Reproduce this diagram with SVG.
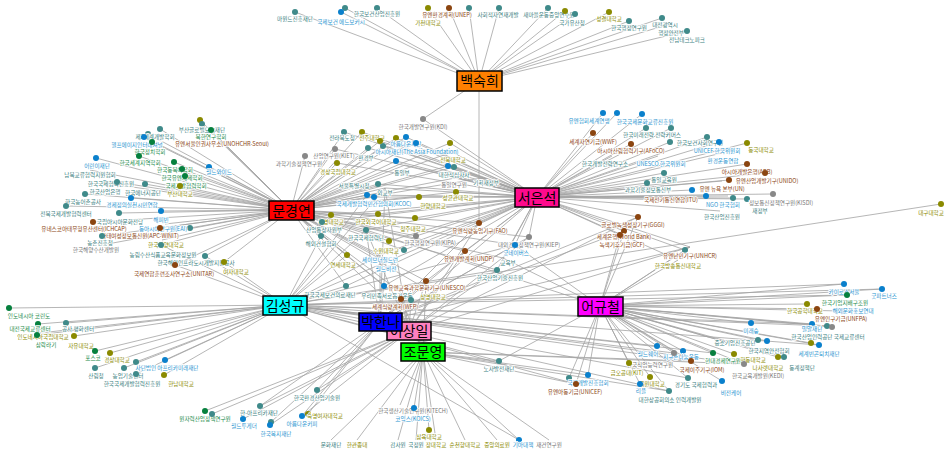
<svg xmlns="http://www.w3.org/2000/svg" width="950" height="454" viewBox="0 0 950 454">
<style>
.e{fill:none;stroke:#a3a3a3;stroke-width:0.8}
text{font-family:"Noto Sans CJK KR","Noto Sans",sans-serif}
.n text{font-size:5.6px;text-anchor:middle;stroke:#fff;stroke-width:1.6px;paint-order:stroke;stroke-linejoin:round}
.t circle{fill:#3f8a8a}.t text{fill:#3a8080}
.o circle{fill:#8a8a00}.o text{fill:#8a8a00}
.r circle{fill:#8b4510}.r text{fill:#8b4513}
.b circle{fill:#0a80cc}.b text{fill:#2a95d0}
.g circle{fill:#06803e}.g text{fill:#1a8a4a}
.y circle{fill:#888}.y text{fill:#777}
.h rect{stroke:#000;stroke-width:1.5}
.h text{font-size:14px;text-anchor:middle;fill:#000}
</style>
<rect width="950" height="454" fill="#fff"/>
<g id="edges" class="e">
<path d="M479 81L295 12M479 81L345 8M479 81L341 12M479 81L377 8M479 81L428 8M479 81L449 8M479 81L469 8M479 81L499 8M479 81L548 8M479 81L565 11M479 81L575 14M479 81L609 12M479 81L629 21M479 81L662 18M479 81L687 31M479 81L670 24M479 81L423 119M479 81L479 223"/>
<path d="M291 210L200 120M291 210L202 124M291 210L211 130M291 210L216 136M291 210L160 129M291 210L148 134M291 210L144 137M291 210L152 142M291 210L96 158M291 210L139 156M291 210L174 162M291 210L182 169M291 210L209 167M291 210L90 170M291 210L105 183M291 210L117 182M291 210L145 184M291 210L185 176M291 210L180 186M291 210L85 194M291 210L131 198M291 210L66 206M291 210L119 213M291 210L161 211M291 210L93 222M291 210L160 228M291 210L165 224M291 210L190 228M291 210L102 236M291 210L161 245M291 210L162 240M291 210L102 245M291 210L205 256M291 210L175 265M291 210L224 262M291 210L344 132M291 210L362 132M291 210L335 149M291 210L305 156M291 210L368 148M291 210L383 146M291 210L380 141M291 210L396 138M291 210L406 137M291 210L416 143M291 210L450 143M291 210L452 152M291 210L396 161M291 210L337 163M291 210L405 165M291 210L448 166M291 210L454 167M291 210L378 184M291 210L455 178M291 210L482 178M291 210L367 195M291 210L374 197M291 210L385 188M291 210L419 197M291 210L456 192M291 210L331 215M291 210L322 222M291 210L378 214M291 210L415 218M291 210L321 236M291 210L366 230M291 210L416 236M291 210L389 241M291 210L404 250M291 210L347 255M291 210L380 255M291 210L386 262M291 210L426 281M291 210L384 286M291 210L346 286M291 210L375 289M291 210L401 299M291 210L411 300M291 210L428 290M291 210L465 251M291 210L529 237M291 210L515 245M291 210L497 270M291 210L503 258M291 210L479 223"/>
<path d="M537 197L344 132M537 197L362 132M537 197L335 149M537 197L368 148M537 197L383 146M537 197L380 141M537 197L396 138M537 197L406 137M537 197L416 143M537 197L450 143M537 197L452 152M537 197L396 161M537 197L337 163M537 197L405 165M537 197L448 166M537 197L454 167M537 197L378 184M537 197L455 178M537 197L482 178M537 197L367 195M537 197L374 197M537 197L385 188M537 197L419 197M537 197L456 192M537 197L331 215M537 197L322 222M537 197L378 214M537 197L415 218M537 197L366 230M537 197L416 236M537 197L389 241M537 197L404 250M537 197L380 255M537 197L386 262M537 197L426 281M537 197L384 286M537 197L346 286M537 197L428 290M537 197L465 251M537 197L529 237M537 197L515 245M537 197L497 270M537 197L503 258M537 197L479 223M537 197L423 119M537 197L603 113M537 197L617 113M537 197L642 114M537 197L646 128M537 197L671 128M537 197L593 133M537 197L631 144M537 197L670 142M537 197L707 137M537 197L719 142M537 197L747 143M537 197L612 156M537 197L658 156M537 197L722 153M537 197L664 173M537 197L647 183M537 197L692 190M537 197L706 196M537 197L678 200M537 197L747 164M537 197L765 173M537 197L729 180M537 197L722 181M537 197L773 194M537 197L733 198M537 197L747 199M537 197L728 196M537 197L720 211M537 197L638 217M537 197L624 231M537 197L620 235M537 197L685 250M537 197L690 247M537 197L678 260"/>
<path d="M285 305L9 308M285 305L38 324M285 305L66 323M285 305L37 335M285 305L74 336M285 305L40 333M285 305L95 351M285 305L110 353M285 305L95 368M285 305L124 368M285 305L136 362M285 305L136 374M285 305L165 360M285 305L164 375M285 305L941 204M285 305L367 195M285 305L385 188M285 305L321 236M285 305L366 230M285 305L347 255M285 305L380 255M285 305L386 262M285 305L346 286M285 305L205 256M285 305L175 265M285 305L224 262M285 305L161 245M285 305L844 284M285 305L882 289M285 305L847 295M285 305L812 324M285 305L827 326M285 305L819 345M285 305L713 353M285 305L744 364M285 305L657 346M285 305L674 353M285 305L691 361M285 305L688 378M285 305L669 391M285 305L499 361M285 305L576 384M285 305L519 440M285 305L515 245M285 305L497 270"/>
<path d="M380 322L385 188M380 322L366 230M380 322L380 255M380 322L386 262M380 322L426 281M380 322L401 299M380 322L465 251M380 322L529 237M380 322L515 245M380 322L479 223M380 322L638 217M380 322L624 231M380 322L690 247M380 322L260 406M380 322L317 390M380 322L308 414M380 322L302 416M380 322L271 422"/>
<path d="M409 331L385 188M409 331L366 230M409 331L426 281M409 331L401 299M409 331L411 300M409 331L465 251M409 331L529 237M409 331L497 270M409 331L690 247M409 331L479 223M409 331L638 217M409 331L205 411M409 331L212 414M409 331L317 390M409 331L260 406M409 331L302 416M409 331L243 419M409 331L270 425"/>
<path d="M423 352L414 408M423 352L400 405M423 352L429 430M423 352L331 440M423 352L357 440M423 352L398 440M423 352L416 440M423 352L436 440M423 352L465 440M423 352L497 440M423 352L519 440M423 352L549 440M423 352L499 361M423 352L426 281M423 352L401 299M423 352L744 364M423 352L691 361M423 352L669 391M423 352L576 384M423 352L588 375"/>
<path d="M600 306L844 284M600 306L882 289M600 306L847 295M600 306L807 304M600 306L817 309M600 306L842 311M600 306L812 324M600 306L827 326M600 306L832 327M600 306L751 323M600 306L811 343M600 306L819 345M600 306L758 340M600 306L767 341M600 306L740 346M600 306L713 353M600 306L734 354M600 306L778 357M600 306L784 357M600 306L744 364M600 306L722 381M600 306L657 346M600 306L674 353M600 306L683 351M600 306L691 361M600 306L688 378M600 306L629 363M600 306L650 377M600 306L640 384M600 306L669 391M600 306L499 361M600 306L569 378M600 306L588 375M600 306L576 384M600 306L638 217M600 306L624 231M600 306L620 235M600 306L685 250M600 306L690 247M600 306L678 260M600 306L515 245M600 306L503 258M600 306L366 230"/>
</g>
<g id="nodes">
<g id="n1" class="n t"><circle cx="295" cy="12" r="3"/><text x="295" y="21">마원드진흥재단</text></g>
<g id="n2" class="n t"><circle cx="345" cy="8" r="3"/></g>
<g id="n4" class="n t"><circle cx="377" cy="8" r="3"/><text x="377" y="16">한국보건산업진흥원</text></g>
<g id="n3" class="n b"><circle cx="341" cy="12" r="3"/><text x="341" y="24">국제보건 에드보커시</text></g>
<g id="n5" class="n o"><circle cx="428" cy="8" r="3"/><text x="428" y="25">가천대학교</text></g>
<g id="n6" class="n r"><circle cx="449" cy="8" r="3"/><text x="447" y="17">유엔환경계획(UNEP)</text></g>
<g id="n7" class="n t"><circle cx="469" cy="8" r="3"/></g>
<g id="n8" class="n t"><circle cx="499" cy="8" r="3"/><text x="498" y="17">사회적자연재개발</text></g>
<g id="n9" class="n t"><circle cx="548" cy="8" r="3"/><text x="549" y="17">새마을운동중앙연수원</text></g>
<g id="n10" class="n o"><circle cx="565" cy="11" r="3"/></g>
<g id="n11" class="n t"><circle cx="575" cy="14" r="3"/><text x="572" y="25">국가유산청</text></g>
<g id="n12" class="n o"><circle cx="609" cy="12" r="3"/><text x="609" y="21">성결대학교</text></g>
<g id="n13" class="n t"><circle cx="629" cy="21" r="3"/><text x="629" y="30">한국행정연구원</text></g>
<g id="n14" class="n t"><circle cx="662" cy="18" r="3"/><text x="665" y="27">대전광역시</text></g>
<g id="n16" class="n t"><text x="671" y="35">행정안전부</text></g>
<g id="n15" class="n t"><circle cx="687" cy="31" r="3"/><text x="687" y="42">전남테크노파크</text></g>
<g id="n17" class="n y"><circle cx="423" cy="119" r="3"/><text x="423" y="129">한국개발연구원(KDI)</text></g>

<g id="n20" class="n o"><circle cx="200" cy="120" r="3"/></g>
<g id="n21" class="n t"><circle cx="202" cy="124" r="3"/><text x="202" y="132">부산글로벌도시재단</text></g>
<g id="n22" class="n g"><circle cx="211" cy="130" r="3"/><text x="211" y="139">북한연구학회</text></g>
<g id="n24" class="n t"><circle cx="160" cy="129" r="3"/></g>
<g id="n25" class="n t"><circle cx="148" cy="134" r="3"/><text x="155" y="139">제3세계개발학회</text></g>
<g id="n23" class="n r"><text x="222" y="146">유엔서울인권사무소(UNOHCHR-Seoul)</text></g>
<g id="n26" class="n b"><circle cx="144" cy="137" r="3"/><text x="137" y="147">헬프에이지인터내셔널</text></g>
<g id="n27" class="n g"><circle cx="152" cy="142" r="3"/><text x="150" y="154">한국정치학회</text></g>
<g id="n28" class="n b"><circle cx="96" cy="158" r="3"/><text x="97" y="168">어린이재단</text></g>
<g id="n29" class="n g"><circle cx="139" cy="156" r="3"/><text x="140" y="165">한국세계지역학회</text></g>
<g id="n30" class="n g"><circle cx="174" cy="162" r="3"/><text x="175" y="172">한국동북아학회</text></g>
<g id="n31" class="n g"><circle cx="182" cy="169" r="3"/><text x="182" y="180">한국유엔체제학회</text></g>
<g id="n32" class="n b"><circle cx="209" cy="167" r="3"/><text x="219" y="174">월드와이드</text></g>
<g id="n33" class="n t"><text x="90" y="177">남북교류협력지원협회</text></g>
<g id="n35" class="n t"><circle cx="105" cy="183" r="3"/><text x="111" y="186">한국국제협력진흥원</text></g>
<g id="n38" class="n g"><circle cx="185" cy="176" r="3"/><text x="186" y="188">국제개발협력학회</text></g>
<g id="n36" class="n t"><circle cx="117" cy="182" r="3"/><text x="105" y="194">한국산업은행</text></g>
<g id="n37" class="n t"><circle cx="145" cy="184" r="3"/><text x="143" y="195">한국에너지공단</text></g>
<g id="n39" class="n o"><circle cx="180" cy="186" r="3"/><text x="180" y="196">부산대학교</text></g>
<g id="n40" class="n t"><circle cx="85" cy="194" r="3"/><text x="83" y="204">한국농어촌공사</text></g>
<g id="n42" class="n b"><circle cx="131" cy="198" r="3"/><text x="132" y="207">경제정의실천시민연합</text></g>
<g id="n43" class="n t"><circle cx="66" cy="206" r="3"/><text x="66" y="216">전북국제개발협력센터</text></g>
<g id="n44" class="n t"><circle cx="119" cy="213" r="3"/><text x="120" y="224">국립아시아문화전당</text></g>
<g id="n45" class="n b"><circle cx="161" cy="211" r="3"/><text x="161" y="222">해피빈</text></g>
<g id="n50" class="n t"><circle cx="190" cy="228" r="3"/></g>
<g id="n46" class="n r"><circle cx="93" cy="222" r="3"/><text x="84" y="231">유네스코아태무형유산센터(ICHCAP)</text></g>
<g id="n49" class="n b"><text x="163" y="231">동아시아연구원(EAI)</text></g>
<g id="n48" class="n r"><circle cx="160" cy="228" r="3"/><text x="140" y="238">아태여성정보통신원(APC-WINIT)</text></g>
<g id="n52" class="n t"><circle cx="102" cy="236" r="3"/><text x="100" y="245">농촌진흥청</text></g>
<g id="n54" class="n o"><text x="166" y="247">한국해양대학교</text></g>
<g id="n55" class="n y"><text x="96" y="252">한국해양수산개발원</text></g>
<g id="n53" class="n t"><circle cx="161" cy="245" r="3"/><text x="163" y="257">농림수산식품교육문화정보원</text></g>
<g id="n56" class="n t"><circle cx="205" cy="256" r="3"/><text x="196" y="265">한국해외인프라도시개발지원공사</text></g>
<g id="n58" class="n o"><circle cx="224" cy="262" r="3"/><text x="236" y="274">여자대학교</text></g>
<g id="n57" class="n r"><circle cx="175" cy="265" r="3"/><text x="174" y="276">국제연합훈련조사연구소(UNITAR)</text></g>

<g id="n60" class="n t"><circle cx="344" cy="132" r="3"/><text x="342" y="140">전라북도청</text></g>
<g id="n61" class="n o"><circle cx="362" cy="132" r="3"/><text x="372" y="140">전주대학교</text></g>
<g id="n63" class="n y"><circle cx="305" cy="156" r="3"/><text x="299" y="166">과학기술정책연구원</text></g>
<g id="n62" class="n y"><circle cx="335" cy="149" r="3"/><text x="334" y="158">산업연구원(KIET)</text></g>
<g id="n64" class="n t"><circle cx="368" cy="148" r="3"/><text x="366" y="160">환경부</text></g>
<g id="n65" class="n t"><circle cx="383" cy="146" r="3"/></g>
<g id="n66" class="n o"><circle cx="380" cy="141" r="3"/></g>
<g id="n67" class="n o"><circle cx="396" cy="138" r="3"/></g>
<g id="n70" class="n o"><circle cx="450" cy="143" r="3"/></g>
<g id="n68" class="n b"><circle cx="406" cy="137" r="3"/><text x="406" y="146">아름다운재단</text></g>
<g id="n69" class="n b"><circle cx="416" cy="143" r="3"/><text x="417" y="154">아시아재단(The Asia Foundation)</text></g>
<g id="n71" class="n o"><text x="453" y="162">전북대학교</text></g>
<g id="n72" class="n b"><circle cx="396" cy="161" r="3"/></g>
<g id="n73" class="n o"><circle cx="337" cy="163" r="3"/><text x="338" y="174">경상국립대학교</text></g>
<g id="n74" class="n t"><text x="402" y="175">통일부</text></g>
<g id="n75" class="n b"><circle cx="448" cy="166" r="3"/></g>
<g id="n76" class="n t"><circle cx="454" cy="167" r="3"/><text x="454" y="177">대한적십자사</text></g>
<g id="n77" class="n t"><circle cx="378" cy="184" r="3"/><text x="354" y="188">서울특별시청</text></g>
<g id="n78" class="n y"><text x="454" y="187">통일연구원</text></g>
<g id="n79" class="n t"><text x="486" y="185">기획재정부</text></g>
<g id="n82" class="n t"><text x="385" y="195">외교부</text></g>
<g id="n80" class="n b"><circle cx="367" cy="195" r="3"/><text x="374" y="206">국제개발협력민간협의회(KCOC)</text></g>
<g id="n81" class="n b"><circle cx="374" cy="197" r="3"/></g>
<g id="n83" class="n o"><circle cx="419" cy="197" r="3"/><text x="433" y="208">한양대학교</text></g>
<g id="n84" class="n o"><circle cx="456" cy="192" r="3"/><text x="458" y="200">성균관대학교</text></g>
<g id="n85" class="n o"><circle cx="331" cy="215" r="3"/><text x="331" y="224">계명대학교</text></g>
<g id="n87" class="n o"><circle cx="378" cy="214" r="3"/><text x="376" y="224">한국외국어대학교</text></g>
<g id="n88" class="n o"><circle cx="415" cy="218" r="3"/><text x="413" y="231">청주대학교</text></g>
<g id="n86" class="n t"><circle cx="322" cy="222" r="3"/><text x="324" y="232">산업통상자원부</text></g>
<g id="n90" class="n t"><circle cx="366" cy="230" r="3"/><text x="366" y="240">한국국제협력단</text></g>
<g id="n89" class="n t"><circle cx="321" cy="236" r="3"/><text x="321" y="246">해외건설협회</text></g>
<g id="n91" class="n y"><circle cx="416" cy="236" r="3"/><text x="430" y="245">한국행정연구원(KIPA)</text></g>
<g id="n92" class="n o"><circle cx="389" cy="241" r="3"/><text x="386" y="253">수원대학교</text></g>
<g id="n93" class="n t"><circle cx="404" cy="250" r="3"/></g>
<g id="n95" class="n b"><text x="380" y="262">세이브더칠드런</text></g>
<g id="n94" class="n o"><circle cx="347" cy="255" r="3"/><text x="343" y="267">연세대학교</text></g>
<g id="n96" class="n b"><text x="386" y="271">월드비전</text></g>
<g id="n104" class="n r"><circle cx="465" cy="251" r="3"/><text x="469" y="261">유엔개발계획(UNDP)</text></g>
<g id="n97" class="n r"><circle cx="426" cy="281" r="3"/><text x="427" y="290">유엔교육과학문화기구(UNESCO)</text></g>
<g id="n98" class="n b"><circle cx="384" cy="286" r="3"/></g>
<g id="n100" class="n t"><text x="387" y="298">우리민족서로돕기운동</text></g>
<g id="n99" class="n t"><circle cx="346" cy="286" r="3"/><text x="330" y="297">한국국제보건의료재단</text></g>
<g id="n103" class="n o"><text x="433" y="299">상명대학교</text></g>
<g id="n101" class="n r"><circle cx="401" cy="299" r="3"/><text x="395" y="309">세계식량계획(WFP)</text></g>
<g id="n102" class="n t"><circle cx="411" cy="300" r="3"/></g>
<g id="n18" class="n r"><circle cx="479" cy="223" r="3"/><text x="480" y="233">유엔식량농업기구(FAO)</text></g>
<g id="n105" class="n y"><circle cx="529" cy="237" r="3"/><text x="529" y="247">대외경제정책연구원(KIEP)</text></g>
<g id="n106" class="n b"><circle cx="515" cy="245" r="3"/><text x="516" y="255">굿네이버스</text></g>
<g id="n108" class="n t"><text x="508" y="265">교육부</text></g>
<g id="n107" class="n t"><circle cx="497" cy="270" r="3"/><text x="500" y="280">한국산업기술진흥원</text></g>

<g id="n110" class="n b"><circle cx="603" cy="113" r="3"/><text x="589" y="123">유엔협회세계연맹</text></g>
<g id="n111" class="n b"><circle cx="617" cy="113" r="3"/></g>
<g id="n112" class="n b"><circle cx="642" cy="114" r="3"/><text x="645" y="124">한국국제문화교류진흥원</text></g>
<g id="n114" class="n t"><circle cx="646" cy="128" r="3"/><text x="652" y="137">한국미래전략 전략커머스</text></g>
<g id="n115" class="n t"><circle cx="671" cy="128" r="3"/></g>
<g id="n116" class="n r"><circle cx="593" cy="133" r="3"/><text x="593" y="144">세계자연기금(WWF)</text></g>
<g id="n118" class="n t"><circle cx="670" cy="142" r="3"/><text x="700" y="145">한국보건사회연구원</text></g>
<g id="n117" class="n r"><circle cx="631" cy="144" r="3"/><text x="631" y="153">아시아산림협력기구(AFoCO)</text></g>
<g id="n119" class="n t"><circle cx="707" cy="137" r="3"/></g>
<g id="n120" class="n b"><circle cx="719" cy="142" r="3"/><text x="717" y="153">UNICEF 한국위원회</text></g>
<g id="n121" class="n o"><circle cx="747" cy="143" r="3"/><text x="761" y="152">동국대학교</text></g>
<g id="n122" class="n t"><text x="605" y="166">한국개발전략연구소</text></g>
<g id="n123" class="n b"><text x="661" y="166">UNESCO 한국위원회</text></g>
<g id="n124" class="n b"><text x="723" y="163">환경운동연합</text></g>
<g id="n130" class="n r"><circle cx="747" cy="164" r="3"/><text x="747" y="174">아시아개발은행(ADB)</text></g>
<g id="n131" class="n r"><circle cx="765" cy="173" r="3"/></g>
<g id="n125" class="n t"><circle cx="664" cy="173" r="3"/><text x="664" y="182">통일교육원</text></g>
<g id="n132" class="n r"><circle cx="729" cy="180" r="3"/><text x="767" y="183">유엔산업개발기구(UNIDO)</text></g>
<g id="n133" class="n r"><text x="722" y="191">유엔 뉴욕 본부(UN)</text></g>
<g id="n126" class="n t"><circle cx="647" cy="183" r="3"/><text x="648" y="192">과학기술정보통신부</text></g>
<g id="n127" class="n b"><circle cx="692" cy="190" r="3"/></g>
<g id="n128" class="n b"><circle cx="706" cy="196" r="3"/></g>
<g id="n129" class="n r"><circle cx="678" cy="200" r="3"/><text x="671" y="202">국제전기통신연합(ITU)</text></g>
<g id="n135" class="n t"><circle cx="733" cy="198" r="3"/></g>
<g id="n136" class="n t"><circle cx="747" cy="199" r="3"/><text x="760" y="213">재정부</text></g>
<g id="n137" class="n b"><text x="723" y="207">NGO 한국협회</text></g>
<g id="n134" class="n y"><circle cx="773" cy="194" r="3"/><text x="781" y="205">정보통신정책연구원(KISDI)</text></g>
<g id="n138" class="n t"><text x="722" y="219">한국산업진흥원</text></g>
<g id="n145" class="n o"><circle cx="941" cy="204" r="3"/><text x="931" y="215">대구대학교</text></g>
<g id="n139" class="n r"><circle cx="638" cy="217" r="3"/><text x="633" y="227">글로벌녹색성장기구(GGGI)</text></g>
<g id="n140" class="n r"><circle cx="624" cy="231" r="3"/><text x="624" y="239">세계은행(World Bank)</text></g>
<g id="n141" class="n r"><circle cx="620" cy="235" r="3"/><text x="622" y="247">녹색기후기금(GCF)</text></g>
<g id="n142" class="n t"><circle cx="685" cy="250" r="3"/></g>
<g id="n143" class="n r"><text x="690" y="258">유엔난민기구(UNHCR)</text></g>
<g id="n144" class="n o"><text x="678" y="268">한국방송통신대학교</text></g>

<g id="n150" class="n b"><circle cx="844" cy="284" r="3"/><text x="844" y="294">카이로스서울</text></g>
<g id="n151" class="n b"><circle cx="882" cy="289" r="3"/><text x="884" y="298">굿파트너즈</text></g>
<g id="n152" class="n g"><circle cx="847" cy="295" r="3"/><text x="845" y="305">한국기업지배구조원</text></g>
<g id="n153" class="n o"><circle cx="807" cy="304" r="3"/><text x="805" y="313">한국공학대학교</text></g>
<g id="n155" class="n b"><circle cx="842" cy="311" r="3"/><text x="853" y="313">해외문화홍보연대</text></g>
<g id="n154" class="n r"><circle cx="817" cy="309" r="3"/><text x="841" y="321">유엔인구기금(UNFPA)</text></g>
<g id="n158" class="n b"><circle cx="812" cy="324" r="3"/><text x="812" y="331">밀알재단</text></g>
<g id="n159" class="n t"><circle cx="827" cy="326" r="3"/><text x="828" y="339">한국산업인력공단 국제교류센터</text></g>
<g id="n160" class="n y"><circle cx="832" cy="327" r="3"/></g>
<g id="n161" class="n b"><circle cx="751" cy="323" r="3"/><text x="751" y="333">미래숲</text></g>
<g id="n166" class="n t"><text x="735" y="345">중소기업진흥공단</text></g>
<g id="n164" class="n t"><circle cx="758" cy="340" r="3"/><text x="769" y="353">한국지역안전협회</text></g>
<g id="n165" class="n b"><circle cx="767" cy="341" r="3"/></g>
<g id="n162" class="n o"><circle cx="811" cy="343" r="3"/></g>
<g id="n163" class="n b"><circle cx="819" cy="345" r="3"/><text x="819" y="356">세계빈곤퇴치재단</text></g>
<g id="n173" class="n b"><circle cx="657" cy="346" r="3"/><text x="648" y="356">월드쉐어</text></g>
<g id="n175" class="n b"><circle cx="683" cy="351" r="3"/><text x="681" y="359">지구촌나눔운동</text></g>
<g id="n174" class="n y"><circle cx="674" cy="353" r="3"/><text x="650" y="367">한국직업능력연구원</text></g>
<g id="n167" class="n g"><circle cx="713" cy="353" r="3"/><text x="723" y="363">현대경제연구원</text></g>
<g id="n168" class="n o"><circle cx="734" cy="354" r="3"/><text x="753" y="362">한동대학교</text></g>
<g id="n169" class="n o"><circle cx="778" cy="357" r="3"/><text x="768" y="370">나사렛대학교</text></g>
<g id="n170" class="n t"><circle cx="784" cy="357" r="3"/><text x="802" y="370">동계정책단</text></g>
<g id="n176" class="n r"><circle cx="691" cy="361" r="3"/><text x="702" y="372">국제이주기구(IOM)</text></g>
<g id="n179" class="n o"><circle cx="629" cy="363" r="3"/><text x="627" y="375">금오공대(KIT)</text></g>
<g id="n171" class="n y"><circle cx="744" cy="364" r="3"/><text x="758" y="378">한국교육개발원(KEDI)</text></g>
<g id="n180" class="n o"><circle cx="650" cy="377" r="3"/><text x="652" y="386">목원대학교</text></g>
<g id="n177" class="n t"><circle cx="688" cy="378" r="3"/><text x="696" y="387">경기도 국제협력과</text></g>
<g id="n181" class="n b"><circle cx="640" cy="384" r="3"/><text x="641" y="393">리플</text></g>
<g id="n182" class="n t"><circle cx="669" cy="391" r="3"/><text x="670" y="402">대한상공회의소 인력개발원</text></g>
<g id="n172" class="n b"><circle cx="722" cy="381" r="3"/><text x="731" y="395">비전케어</text></g>
<g id="n183" class="n t"><circle cx="499" cy="361" r="3"/><text x="499" y="371">노사발전재단</text></g>
<g id="n184" class="n t"><circle cx="569" cy="378" r="3"/></g>
<g id="n185" class="n b"><circle cx="588" cy="375" r="3"/><text x="588" y="385">국제개발진흥협회</text></g>
<g id="n186" class="n r"><circle cx="576" cy="384" r="3"/><text x="575" y="394">유엔아동기금(UNICEF)</text></g>

<g id="n190" class="n g"><circle cx="9" cy="308" r="3"/><text x="29" y="318">인도네시아 코린도</text></g>
<g id="n191" class="n g"><circle cx="38" cy="324" r="3"/><text x="30" y="331">대전국제교류센터</text></g>
<g id="n192" class="n t"><circle cx="66" cy="323" r="3"/><text x="78" y="331">공사 평화센터</text></g>
<g id="n195" class="n o"><text x="43" y="339">인도네시아국립대학교</text></g>
<g id="n193" class="n g"><circle cx="37" cy="335" r="3"/><text x="46" y="347">삼락라기</text></g>
<g id="n194" class="n o"><circle cx="74" cy="336" r="3"/><text x="81" y="348">자유대학교</text></g>
<g id="n196" class="n g"><circle cx="95" cy="351" r="3"/><text x="93" y="360">포스코</text></g>
<g id="n197" class="n o"><circle cx="110" cy="353" r="3"/><text x="117" y="362">경상대학교</text></g>
<g id="n200" class="n t"><circle cx="136" cy="362" r="3"/></g>
<g id="n202" class="n b"><circle cx="165" cy="360" r="3"/><text x="167" y="370">사단법인 아프리카미래재단</text></g>
<g id="n198" class="n t"><circle cx="95" cy="368" r="3"/><text x="96" y="378">산림청</text></g>
<g id="n199" class="n t"><circle cx="124" cy="368" r="3"/><text x="128" y="378">농업기술센터</text></g>
<g id="n201" class="n t"><circle cx="136" cy="374" r="3"/><text x="132" y="386">한국국제개발협력진흥원</text></g>
<g id="n203" class="n o"><circle cx="164" cy="375" r="3"/><text x="181" y="386">한남대학교</text></g>
<g id="n204" class="n g"><circle cx="205" cy="411" r="3"/><text x="205" y="421">원자력산업정책연구원</text></g>
<g id="n205" class="n t"><circle cx="212" cy="414" r="3"/></g>
<g id="n206" class="n t"><circle cx="317" cy="390" r="3"/><text x="317" y="400">한국환경산업기술원</text></g>
<g id="n207" class="n t"><circle cx="260" cy="406" r="3"/><text x="259" y="415">한-아프리카재단</text></g>
<g id="n208" class="n o"><circle cx="308" cy="414" r="3"/><text x="325" y="418">숙명여자대학교</text></g>
<g id="n209" class="n b"><circle cx="302" cy="416" r="3"/><text x="302" y="426">아름다운커피</text></g>
<g id="n210" class="n b"><circle cx="243" cy="419" r="3"/><text x="244" y="428">월드투게더</text></g>
<g id="n211" class="n t"><circle cx="271" cy="422" r="3"/></g>
<g id="n212" class="n b"><circle cx="270" cy="425" r="3"/><text x="276" y="436">한국복지재단</text></g>

<g id="n221" class="n y"><text x="413" y="413">한국생산기술연구원(KITECH)</text></g>
<g id="n220" class="n b"><circle cx="414" cy="408" r="3"/><text x="413" y="421">코익스(KOICS)</text></g>
<g id="n222" class="n o"><circle cx="429" cy="430" r="3"/><text x="429" y="439">삼육대학교</text></g>
<g id="n223" class="n t"><text x="331" y="447">문화재단</text></g>
<g id="n224" class="n o"><text x="357" y="447">한관종대</text></g>
<g id="n225" class="n t"><text x="398" y="447">감사원</text></g>
<g id="n226" class="n t"><text x="416" y="447">국정원</text></g>
<g id="n227" class="n o"><text x="436" y="447">장대학교</text></g>
<g id="n229" class="n o"><text x="465" y="447">순천향대학교</text></g>
<g id="n230" class="n o"><text x="497" y="447">중앙의료원</text></g>
<g id="n228" class="n b"><circle cx="519" cy="440" r="3"/><text x="523" y="447">기아대책</text></g>
<g id="n231" class="n y"><text x="549" y="447">재건연구원</text></g>
</g>
<g id="hubs" class="h">
<g id="h1"><rect x="457" y="71" width="45" height="20" fill="#ff8000"/><text x="479.5" y="86">백숙희</text></g>
<g id="h2"><rect x="269" y="201" width="45" height="19" fill="#ff0000"/><text x="291.5" y="215.5">문경연</text></g>
<g id="h3"><rect x="515" y="188" width="44" height="19" fill="#ff0a8c"/><text x="537" y="202.5">서은석</text></g>
<g id="h4"><rect x="263" y="296" width="44" height="19" fill="#00ffff"/><text x="285" y="310.5">김성규</text></g>
<g id="h8"><rect x="578" y="297" width="45" height="19" fill="#ff00ff"/><text x="600.5" y="311.5">어규철</text></g>
<g id="h7"><rect x="401" y="343" width="44" height="18" fill="#00ff00"/><text x="423" y="357">조문영</text></g>
<g id="h6"><rect x="387" y="322" width="44" height="18" fill="#ff80c0"/><text x="409" y="336">이상일</text></g>
<g id="h5"><rect x="359" y="313" width="43" height="18" fill="#0000ff"/><text x="380.5" y="327">박한나</text></g>
</g>
</svg>
